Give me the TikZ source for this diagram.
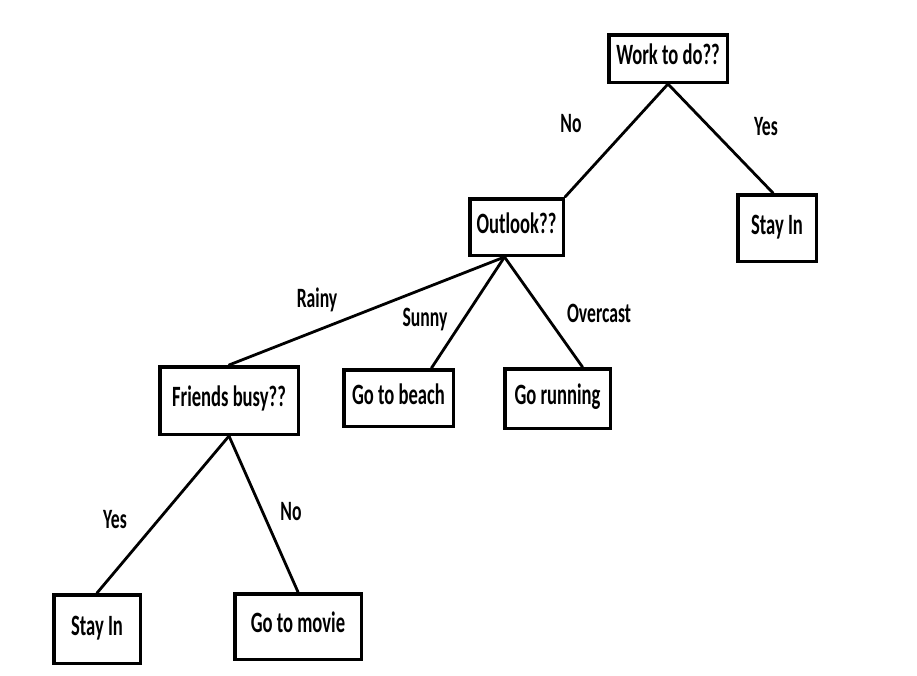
\documentclass[tikz,border=0pt]{standalone}
\usepackage{fontspec}
\setmainfont{Carlito}[FakeStretch=0.63]
\usetikzlibrary{positioning}

\begin{document}
\begin{tikzpicture}[
    x=1pt, y=-1pt,
    box/.style={rectangle, draw=black, line width=3.5pt, inner sep=0pt, text height=1.4em, text depth=0.2em, font=\fontsize{29.5}{31}\selectfont\bfseries},
    lbl/.style={inner sep=0pt, text height=1.4em, text depth=0.2em, font=\fontsize{28}{30}\selectfont\bfseries},
    branch/.style={line width=2.8pt, line cap=round}
]
\useasboundingbox (0,0) rectangle (917,675);

% Root question
\node[box, minimum width=118.5pt, minimum height=47.5pt] (work) at (668,58.5) {Work to do??};
\node[box, minimum width=78.5pt, minimum height=66.5pt] (stayR) at (777,228) {Stay In};
\node[box, minimum width=93.5pt, minimum height=56.5pt] (outlook) at (516.5,227) {Outlook??};

% Outlook branches
\node[box, minimum width=138.5pt, minimum height=67.5pt] (friends) at (229,400.5) {Friends busy??};
\node[box, minimum width=109.5pt, minimum height=56.5pt] (beach) at (398.5,398) {Go to beach};
\node[box, minimum width=105.5pt, minimum height=59.5pt] (running) at (557.5,398.5) {Go running};

% Friends branches
\node[box, minimum width=86.5pt, minimum height=68.5pt] (stayL) at (97,629) {Stay In};
\node[box, minimum width=126.5pt, minimum height=65.5pt] (movie) at (298,626.5) {Go to movie};

% Edges
\draw[branch] (work.south) -- (outlook.north east);
\draw[branch] (work.south) -- ([xshift=-4pt]stayR.north);
\draw[branch] ([xshift=-12pt]outlook.south) -- (friends.north);
\draw[branch] ([xshift=-12pt]outlook.south) -- ([xshift=33pt]beach.north);
\draw[branch] ([xshift=-12pt]outlook.south) -- ([xshift=25pt]running.north);
\draw[branch] (friends.south) -- (stayL.north);
\draw[branch] (friends.south) -- (movie.north);

% Edge labels
\node[lbl] (noWork) at (571,126) {No};
\node[lbl] (yesWork) at (766,129) {Yes};
\node[lbl] (rainy) at (317,301) {Rainy};
\node[lbl] (sunny) at (425,320) {Sunny};
\node[lbl] (overcast) at (599,316) {Overcast};
\node[lbl] (yesFriends) at (115,522) {Yes};
\node[lbl] (noFriends) at (291,514) {No};

\end{tikzpicture}
\end{document}
